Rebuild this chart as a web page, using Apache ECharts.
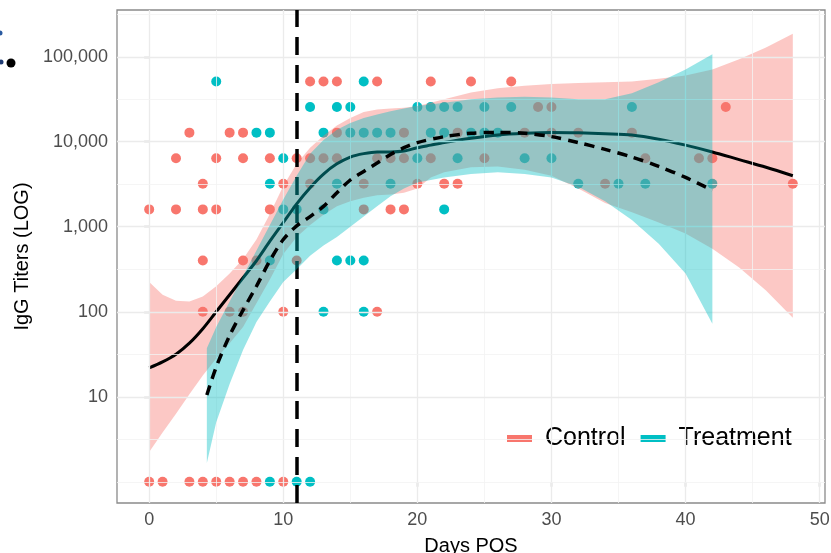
<!DOCTYPE html>
<html><head><meta charset="utf-8">
<script src="https://cdn.jsdelivr.net/npm/echarts@6/dist/echarts.min.js"></script>
<style>html,body{margin:0;padding:0;background:#fff}#c{width:831px;height:553px}</style>
</head><body><div id="c"></div>
<script>
// ---------- tick labels ----------
const xTickValues = [0, 10, 20, 30, 40, 50];
const xMinorValues = [5, 15, 25, 35, 45];
const yTickValues = [10, 100, 1000, 10000, 100000];
const yTickLabels = ['10', '100', '1,000', '10,000', '100,000'];
const yMinorLog10 = [0, 0.5, 1.5, 2.5, 3.5, 4.5, 5.5];
const cutoffDay = 11;

// ---------- observed titers [day, titer] ----------
const controlPoints = [
  [0,1],[1,1],[3,1],[4,1],[5,1],[6,1],[7,1],[8,1],[10,1],
  [4,100],[6,100],[7,100],[10,100],[17,100],
  [4,400],[7,400],[8,400],[11,400],
  [0,1600],[2,1600],[4,1600],[5,1600],[9,1600],[16,1600],[18,1600],[19,1600],
  [4,3200],[10,3200],[12,3200],[16,3200],[20,3200],[22,3200],[23,3200],[34,3200],[48,3200],
  [2,6400],[5,6400],[7,6400],[9,6400],[11,6400],[12,6400],[13,6400],[14,6400],[17,6400],[18,6400],[19,6400],[21,6400],[25,6400],[37,6400],[41,6400],[42,6400],
  [3,12800],[6,12800],[7,12800],[14,12800],[19,12800],[23,12800],[28,12800],[30,12800],[32,12800],[36,12800],
  [29,25600],[30,25600],[43,25600],
  [12,51200],[13,51200],[14,51200],[17,51200],[21,51200],[24,51200],[27,51200]
];
const treatmentPoints = [
  [9,1],[11,1],[12,1],
  [13,100],[16,100],
  [9,400],[14,400],[15,400],[16,400],
  [10,1600],[11,1600],[13,1600],[22,1600],
  [9,3200],[14,3200],[18,3200],[32,3200],[35,3200],[37,3200],[42,3200],
  [10,6400],[20,6400],[23,6400],[28,6400],[30,6400],
  [8,12800],[9,12800],[13,12800],[15,12800],[16,12800],[17,12800],[18,12800],[21,12800],[22,12800],[24,12800],[25,12800],[26,12800],
  [12,25600],[14,25600],[15,25600],[20,25600],[21,25600],[22,25600],[23,25600],[25,25600],[27,25600],[36,25600],
  [5,51200],[16,51200]
];

// ---------- smoothed fits (log10 titer) ----------
const controlDays  = [0,1,2,3,4,5,6,7,8,9,10,11,12,13,14,15,16,17,18,19,20,21,22,24,26,28,30,32,34,36,38,40,42,44,46,48];
const controlFit   = [1.34,1.41,1.50,1.63,1.80,2.00,2.20,2.40,2.60,2.83,3.05,3.27,3.46,3.62,3.74,3.82,3.86,3.88,3.88,3.89,3.93,3.96,3.99,4.04,4.08,4.10,4.11,4.105,4.095,4.08,4.03,3.96,3.88,3.79,3.70,3.60];
const controlUpper = [2.35,2.20,2.13,2.12,2.18,2.30,2.45,2.62,2.85,3.15,3.48,3.74,3.93,4.07,4.19,4.28,4.35,4.38,4.39,4.40,4.42,4.46,4.50,4.58,4.63,4.66,4.68,4.69,4.70,4.71,4.74,4.78,4.85,4.97,5.11,5.27];
const controlLower = [0.35,0.58,0.80,1.03,1.25,1.45,1.63,1.82,2.10,2.38,2.68,2.88,3.02,3.14,3.24,3.30,3.34,3.37,3.38,3.40,3.45,3.58,3.64,3.70,3.71,3.67,3.60,3.45,3.28,3.17,3.05,2.92,2.74,2.52,2.25,1.93];

const treatmentDays  = [4.3,5,6,7,8,9,10,11,12,13,14,15,16,17,18,19,20,22,24,26,28,30,32,34,36,38,40,42];
const treatmentFit   = [1.02,1.35,1.72,2.02,2.30,2.60,2.85,3.01,3.12,3.24,3.40,3.55,3.65,3.75,3.85,3.93,3.99,4.06,4.10,4.11,4.10,4.06,3.99,3.91,3.82,3.71,3.58,3.43];
const treatmentUpper = [1.57,1.82,2.12,2.42,2.72,3.02,3.32,3.60,3.86,4.02,4.14,4.22,4.28,4.32,4.36,4.39,4.42,4.46,4.50,4.52,4.53,4.52,4.50,4.50,4.57,4.70,4.85,5.03];
const treatmentLower = [0.22,0.70,1.15,1.55,1.88,2.12,2.35,2.50,2.66,2.78,2.88,3.00,3.12,3.24,3.36,3.45,3.52,3.58,3.62,3.64,3.62,3.58,3.47,3.30,3.08,2.80,2.45,1.86];

// ---------- colours ----------
const cControl = '#F8766D';
const cTreat = '#00BFC4';
const FONT = '"Liberation Sans", Arial, Helvetica, sans-serif';

const lg = v => Math.round(Math.log10(v) * 1e9) / 1e9;
const yTickLogs = yTickValues.map(lg);

function toLogPts(pts) { return pts.map(p => [p[0], lg(p[1])]); }
function zip(xs, ys) { return xs.map((x, i) => [x, ys[i]]); }

function band(name, xs, lo, hi, color, z) {
  return {
    type: 'custom', name: name, z: z, silent: true, animation: false,
    data: [[xs[0], lo[0]]],
    renderItem: function (params, api) {
      const pts = [];
      for (let i = 0; i < xs.length; i++) pts.push(api.coord([xs[i], hi[i]]));
      for (let i = xs.length - 1; i >= 0; i--) pts.push(api.coord([xs[i], lo[i]]));
      return { type: 'polygon', shape: { points: pts }, style: { fill: color, opacity: 0.4 } };
    }
  };
}

const gridLines = [];
xTickValues.forEach(v => gridLines.push({ xAxis: v, lineStyle: { color: '#ebebeb', width: 1.3, type: 'solid' } }));
xMinorValues.forEach(v => gridLines.push({ xAxis: v, lineStyle: { color: '#f2f2f2', width: 0.8, type: 'solid' } }));
yTickLogs.forEach(v => gridLines.push({ yAxis: v, lineStyle: { color: '#ebebeb', width: 1.3, type: 'solid' } }));
yMinorLog10.forEach(v => gridLines.push({ yAxis: v, lineStyle: { color: '#f2f2f2', width: 0.8, type: 'solid' } }));

const chart = echarts.init(document.getElementById('c'), null, { renderer: 'canvas' });
chart.setOption({
  animation: false,
  backgroundColor: '#ffffff',
  textStyle: { fontFamily: FONT },
  grid: { left: 117, right: 6, top: 10, bottom: 50, show: true, borderColor: '#8a8a8a', borderWidth: 1.3,
          backgroundColor: 'transparent', containLabel: false, outerBoundsMode: 'none' },
  xAxis: {
    type: 'value', min: -2.4, max: 50.4,
    name: 'Days POS', nameLocation: 'middle', nameGap: 33,
    nameTextStyle: { fontSize: 20, color: '#000', fontFamily: FONT },
    axisLine: { show: false },
    splitLine: { show: false },
    axisTick: { show: true, customValues: xTickValues, length: 5, lineStyle: { color: '#555', width: 1.2 } },
    axisLabel: { customValues: xTickValues, fontSize: 18, color: '#4d4d4d', margin: 8, fontFamily: FONT }
  },
  yAxis: {
    type: 'value', min: -0.25, max: 5.55,
    name: 'IgG Titers (LOG)', nameLocation: 'middle', nameGap: 75,
    nameTextStyle: { fontSize: 20, color: '#000', fontFamily: FONT },
    axisLine: { show: false },
    splitLine: { show: false },
    axisTick: { show: true, customValues: yTickLogs, length: 5, lineStyle: { color: '#555', width: 1.2 } },
    axisLabel: {
      customValues: yTickLogs, fontSize: 18, color: '#4d4d4d', margin: 9, fontFamily: FONT,
      formatter: function (v) {
        const i = yTickLogs.findIndex(t => Math.abs(t - v) < 1e-6);
        return i >= 0 ? yTickLabels[i] : '';
      }
    }
  },
  legend: {
    data: ['Control', 'Treatment'], left: 507, top: 426, padding: 0,
    icon: 'rect', itemWidth: 25, itemHeight: 7, itemGap: 15,
    formatter: function (name) { return '{g|}' + name; },
    textStyle: { fontSize: 25, color: '#000', fontFamily: FONT, rich: { g: { width: 8 } } }
  },
  graphic: [
    { type: 'circle', shape: { cx: 11, cy: 63, r: 4.5 }, style: { fill: '#000' } },
    { type: 'circle', shape: { cx: 1, cy: 62, r: 2.5 }, style: { fill: '#1f3b73' } },
    { type: 'circle', shape: { cx: 0, cy: 33, r: 2.5 }, style: { fill: '#2a5aa0' } }
  ],
  series: [
    { type: 'line', name: 'grid', data: [], z: 0, silent: true,
      markLine: { silent: true, symbol: ['none', 'none'], label: { show: false }, animation: false, data: gridLines } },
    { type: 'scatter', name: 'Control', data: toLogPts(controlPoints), symbolSize: 10, z: 2,
      itemStyle: { color: cControl, opacity: 1 } },
    { type: 'scatter', name: 'Treatment', data: toLogPts(treatmentPoints), symbolSize: 10, z: 2,
      itemStyle: { color: cTreat, opacity: 1 } },
    band('Control band', controlDays, controlLower, controlUpper, cControl, 3),
    { type: 'line', name: 'Control fit', data: zip(controlDays, controlFit), z: 4, smooth: 0.3,
      showSymbol: false, silent: true, lineStyle: { color: '#000', width: 3 } },
    band('Treatment band', treatmentDays, treatmentLower, treatmentUpper, cTreat, 5),
    { type: 'line', name: 'Treatment fit', data: zip(treatmentDays, treatmentFit), z: 6, smooth: 0.3,
      showSymbol: false, silent: true, lineStyle: { color: '#000', width: 3.5, type: [10, 7] } },
    { type: 'line', name: 'cutoff', data: [], z: 7, silent: true,
      markLine: { silent: true, symbol: ['none', 'none'], label: { show: false }, animation: false,
        data: [{ xAxis: cutoffDay, lineStyle: { color: '#000', width: 3.5, type: [18, 10] } }] } }
  ]
});
</script></body></html>
